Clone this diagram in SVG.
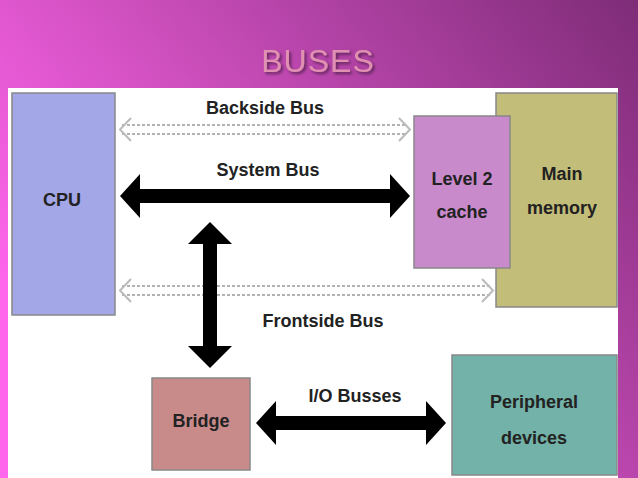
<svg xmlns="http://www.w3.org/2000/svg" width="638" height="478" viewBox="0 0 638 478">
<defs>
<linearGradient id="bg" x1="0" y1="0.6" x2="1" y2="0">
<stop offset="0" stop-color="#ff66ec"/><stop offset="0.35" stop-color="#d552c4"/><stop offset="1" stop-color="#7e2c78"/>
</linearGradient>
<filter id="sh"><feDropShadow dx="2" dy="2" stdDeviation="1.5" flood-color="#000" flood-opacity="0.5"/></filter>
</defs>
<style>
text{font-family:"Liberation Sans",Arial,sans-serif;}
.lbl{font-size:18px;fill:#222;text-anchor:middle;font-weight:bold;}
.bx{stroke:#888;stroke-width:1.5;}
.dash{stroke:#999;stroke-width:1.5;stroke-dasharray:3 2;fill:none;}
</style>
<rect width="638" height="478" fill="url(#bg)"/>
<text x="318" y="72" font-size="32" fill="#e090b0" text-anchor="middle" filter="url(#sh)" style="letter-spacing:1px">BUSES</text>
<rect x="8" y="88" width="610" height="390" fill="#fff"/>
<g id="cpu"><rect class="bx" x="12" y="93" width="103" height="222" fill="#a3a7e8"/><text class="lbl" x="62" y="206">CPU</text></g>
<g id="main-memory"><rect class="bx" x="496" y="93" width="121" height="214" fill="#c3bd7a"/><text class="lbl" x="562" y="180">Main</text><text class="lbl" x="562" y="214">memory</text></g>
<g id="level2-cache"><rect class="bx" x="414" y="116" width="96" height="152" fill="#c98acc"/><text class="lbl" x="462" y="185">Level 2</text><text class="lbl" x="462" y="218">cache</text></g>
<g id="bridge"><rect class="bx" x="152" y="378" width="98" height="92" fill="#c98a8a"/><text class="lbl" x="201" y="427">Bridge</text></g>
<g id="peripheral"><rect class="bx" x="452" y="355" width="165" height="120" fill="#72b2a8"/><text class="lbl" x="534" y="408">Peripheral</text><text class="lbl" x="534" y="444">devices</text></g>
<g id="connectors">
<path class="dash" d="M122,125 H406 M122,134 H406"/>
<path d="M131,118 L120,129.5 L131,141 M399,118 L410,129.5 L399,141" fill="none" stroke="#bbb" stroke-width="2"/>
<path class="dash" d="M122,286 H490 M122,295 H490"/>
<path d="M131,279 L120,290.5 L131,302 M482,279 L493,290.5 L482,302" fill="none" stroke="#bbb" stroke-width="2"/>
<path d="M120,196 L140,174 V189 H390 V174 L410,196 L390,218 V203 H140 V218 Z" fill="#000"/>
<path d="M210,222 L232,244 H217 V346 H232 L210,368 L188,346 H203 V244 H188 Z" fill="#000"/>
<path d="M256,423 L276,401 V416 H426 V401 L446,423 L426,445 V430 H276 V445 Z" fill="#000"/>
</g>
<text class="lbl" x="265" y="114" font-size="16">Backside Bus</text>
<text class="lbl" x="268" y="176">System Bus</text>
<text class="lbl" x="323" y="327" font-size="17">Frontside Bus</text>
<text class="lbl" x="355" y="402">I/O Busses</text>
</svg>
